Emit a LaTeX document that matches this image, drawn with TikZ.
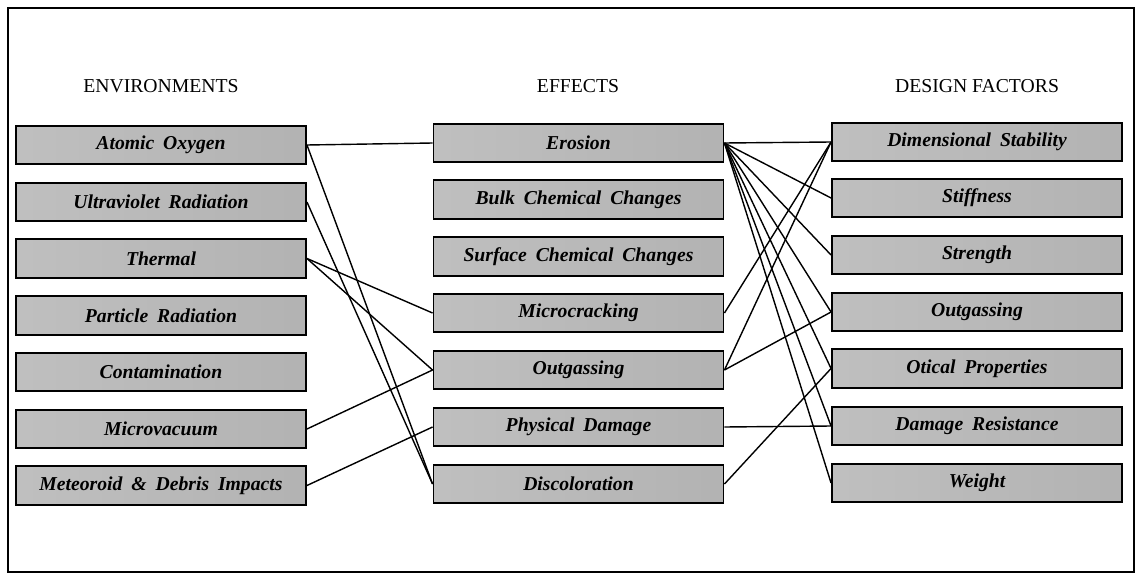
\documentclass[tikz,border=0pt]{standalone}
\usepackage{fontspec}
\setmainfont{Liberation Serif}
\usetikzlibrary{arrows}

\begin{document}
\begin{tikzpicture}[x=0.025cm, y=-0.025cm]

\tikzstyle{heading}=[font=\fontsize{14}{16}\selectfont]
\tikzstyle{factor}=[rectangle, draw=black, line width=1.3pt, minimum width=7.25cm, minimum height=0.97cm, inner sep=0pt,
  left color=black!25, middle color=black!12, right color=black!30,
  font={\fontsize{14}{16}\selectfont\bfseries\itshape\spaceskip=0.45em plus 0.1em}]
\tikzstyle{connect}=[-, line width=1pt]

\useasboundingbox (0,0) rectangle (1142,577);

% outer frame
\draw[line width=1.3pt] (8,8) rectangle (1134,572);

\node[heading] (henv) at (161,86) {ENVIRONMENTS};
\node[heading] (heff) at (578,86) {EFFECTS};
\node[heading] (hdes) at (977,86) {DESIGN FACTORS};

% environments
\node[factor] (oxygen) at (161,145) {Atomic Oxygen};
\node[factor] (uv) at (161,202) {Ultraviolet Radiation};
\node[factor] (thermal) at (161,258.5) {Thermal};
\node[factor] (particle) at (161,315.5) {Particle Radiation};
\node[factor] (contam) at (161,372) {Contamination};
\node[factor] (vacuum) at (161,429) {Microvacuum};
\node[factor] (meteor) at (161,485.5) {Meteoroid \& Debris Impacts};

% effects
\node[factor] (erosion) at (578.5,143) {Erosion};
\node[factor] (bulk) at (578.5,199.5) {Bulk Chemical Changes};
\node[factor] (surface) at (578.5,256.5) {Surface Chemical Changes};
\node[factor] (crack) at (578.5,313) {Microcracking};
\node[factor] (outgas) at (578.5,370) {Outgassing};
\node[factor] (physdmg) at (578.5,427) {Physical Damage};
\node[factor] (discolor) at (578.5,484) {Discoloration};

% design factors
\node[factor] (dimstab) at (977,142) {Dimensional Stability};
\node[factor] (stiff) at (977,198) {Stiffness};
\node[factor] (strength) at (977,255) {Strength};
\node[factor] (outgasdf) at (977,312) {Outgassing};
\node[factor] (optical) at (977,368.5) {Otical Properties};
\node[factor] (dmgres) at (977,426) {Damage Resistance};
\node[factor] (weight) at (977,483) {Weight};

\path (oxygen.east) [connect] edge (erosion.west);
\path (oxygen.east) [connect] edge (discolor.west);
\path (uv.east) [connect] edge (discolor.west);
\path (thermal.east) [connect] edge (crack.west);
\path (thermal.east) [connect] edge (outgas.west);
\path (vacuum.east) [connect] edge (outgas.west);
\path (meteor.east) [connect] edge (physdmg.west);

\path (erosion.east) [connect] edge (dimstab.west);
\path (erosion.east) [connect] edge (stiff.west);
\path (erosion.east) [connect] edge (strength.west);
\path (erosion.east) [connect] edge (outgasdf.west);
\path (erosion.east) [connect] edge (optical.west);
\path (erosion.east) [connect] edge (dmgres.west);
\path (erosion.east) [connect] edge (weight.west);

\path (crack.east) [connect] edge (dimstab.west);
\path (outgas.east) [connect] edge (dimstab.west);
\path (outgas.east) [connect] edge (outgasdf.west);
\path (physdmg.east) [connect] edge (dmgres.west);
\path (discolor.east) [connect] edge (optical.west);

\end{tikzpicture}
\end{document}
